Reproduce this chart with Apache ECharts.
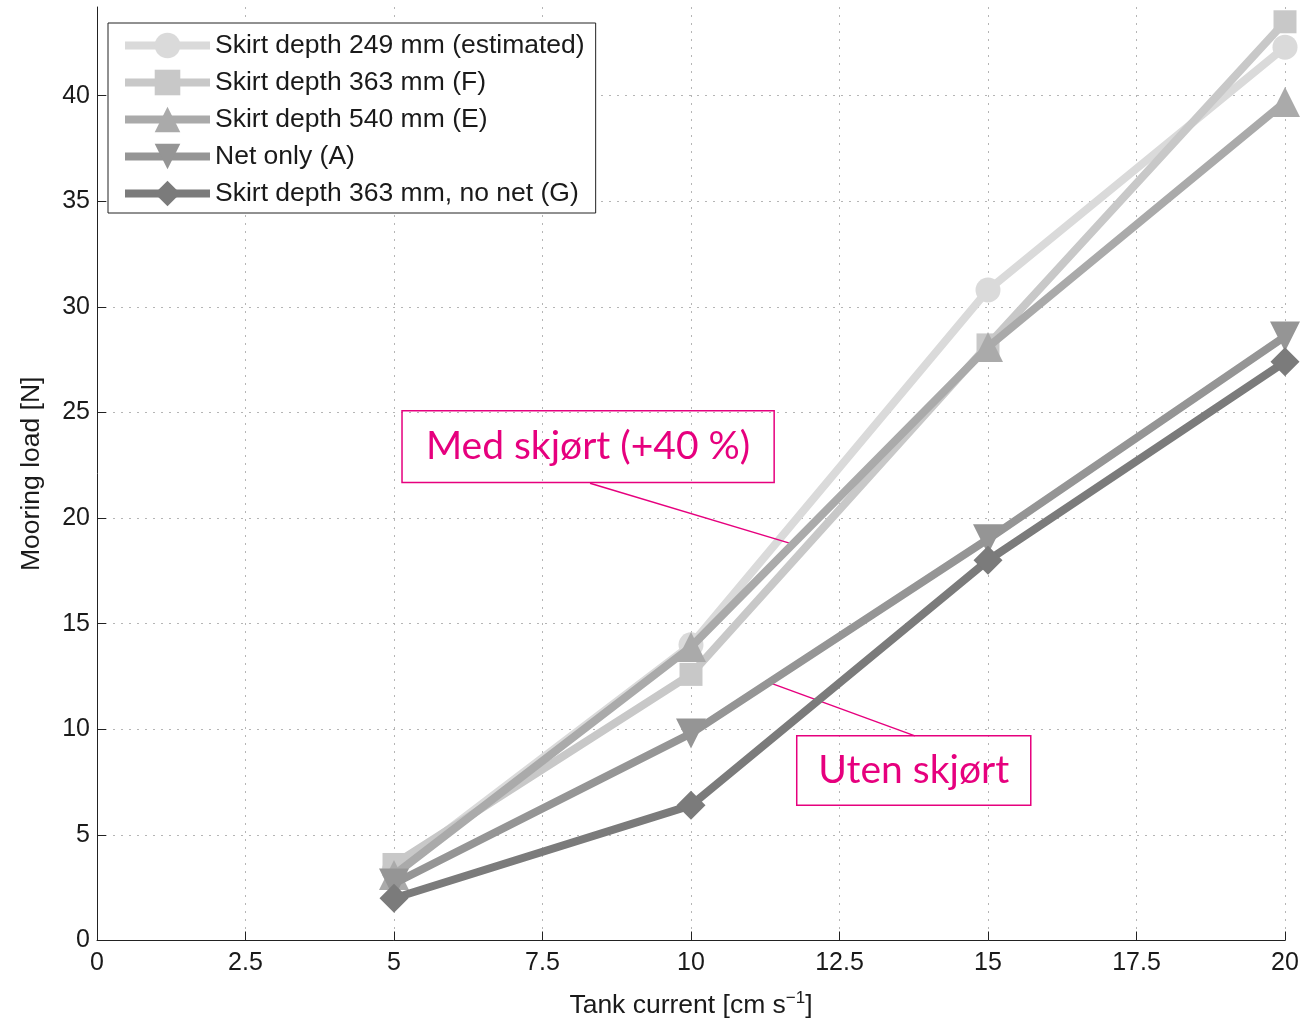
<!DOCTYPE html>
<html>
<head>
<meta charset="utf-8">
<title>Mooring load vs tank current</title>
<script src="https://cdn.jsdelivr.net/npm/echarts@6/dist/echarts.min.js"></script>
<style>
  html, body { margin: 0; padding: 0; background: #fff; overflow: hidden; }
  #chart { width: 1309px; height: 1024px; }
</style>
</head>
<body>
<div id="chart"></div>
<script>
// Tank current (cm/s) at which mooring load was measured
const currents = [5, 10, 15, 20];

// Mooring load [N] per configuration
const skirt249 = [3.3, 14.0, 30.8, 42.3];
const skirt363 = [3.6, 12.6, 28.2, 43.5];
const skirt540 = [3.1, 13.9, 28.1, 39.7];
const netOnly = [2.7, 9.8, 19.0, 28.6];
const skirt363NoNet = [2.0, 6.4, 18.0, 27.4];

const seriesNames = [
  'Skirt depth 249 mm (estimated)',
  'Skirt depth 363 mm (F)',
  'Skirt depth 540 mm (E)',
  'Net only (A)',
  'Skirt depth 363 mm, no net (G)'
];

// Axis tick labels
const xTicks = [0, 2.5, 5, 7.5, 10, 12.5, 15, 17.5, 20];
const yTicks = [0, 5, 10, 15, 20, 25, 30, 35, 40];

// Callout boxes and their leader lines, in data units
const calloutWith = { text: 'Med skjørt (+40 %)', box: [[5.135, 25.08], [11.40, 21.69]], leader: [[8.30, 21.65], [11.70, 18.78]] };
const calloutWithout = { text: 'Uten skjørt', box: [[11.78, 9.69], [15.72, 6.40]], leader: [[13.77, 9.69], [11.25, 12.28]] };

const pair = (vals) => currents.map((c, i) => [c, vals[i]]);

const styles = [
  { color: '#dadada', symbol: 'circle', size: 25, rotate: 0 },
  { color: '#c8c8c8', symbol: 'rect', size: 23, rotate: 0 },
  { color: '#aaaaaa', symbol: 'triangle', size: 30, rotate: 0 },
  { color: '#959595', symbol: 'triangle', size: 30, rotate: 180 },
  { color: '#7b7b7b', symbol: 'diamond', size: 29, rotate: 0 }
];
const values = [skirt249, skirt363, skirt540, netOnly, skirt363NoNet];

const MAGENTA = '#e6007e';
const FONT = '"Liberation Sans", Arial, sans-serif';

const series = values.map((v, i) => ({
  name: seriesNames[i],
  type: 'line',
  data: pair(v),
  symbol: styles[i].symbol,
  symbolSize: styles[i].size,
  symbolRotate: styles[i].rotate,
  showAllSymbol: true,
  lineStyle: { color: styles[i].color, width: 8 },
  itemStyle: { color: styles[i].color },
  emphasis: { disabled: true },
  z: 3 + i
}));

function callout(c) {
  return {
    name: c.text,
    type: 'line',
    data: [],
    silent: true,
    markArea: {
      silent: true,
      itemStyle: { color: 'rgba(255,255,255,0)', borderColor: MAGENTA, borderWidth: 1.5 },
      label: {
        show: true, position: 'inside', color: MAGENTA,
        fontFamily: 'Lato, "Open Sans", sans-serif', fontSize: 39
      },
      data: [[{ name: c.text, coord: c.box[0] }, { coord: c.box[1] }]]
    },
    markLine: {
      silent: true,
      symbol: ['none', 'none'],
      label: { show: false },
      lineStyle: { color: MAGENTA, width: 1.5, type: 'solid' },
      data: [[{ coord: c.leader[0] }, { coord: c.leader[1] }]]
    }
  };
}
series.push(callout(calloutWith), callout(calloutWithout));

const chart = echarts.init(document.getElementById('chart'), null, { renderer: 'canvas' });
chart.setOption({
  animation: false,
  backgroundColor: '#ffffff',
  textStyle: { fontFamily: FONT },
  grid: { left: 97, right: 24, top: 7, bottom: 78, containLabel: false },
  legend: {
    data: seriesNames,
    orient: 'vertical',
    left: 108,
    top: 23,
    itemWidth: 85,
    itemHeight: 32,
    itemGap: 10,
    padding: [9, 11, 6, 13],
    borderColor: '#222',
    borderWidth: 1,
    backgroundColor: '#fff',
    lineStyle: { width: 8 },
    textStyle: { fontSize: 26.5, color: '#1a1a1a', fontFamily: FONT },
    itemStyle: { borderWidth: 0 },
    selectedMode: false
  },
  xAxis: {
    type: 'value',
    min: 0,
    max: 20,
    interval: 2.5,
    name: 'Tank current [cm s{sup|−1}]',
    nameLocation: 'middle',
    nameGap: 49,
    nameTextStyle: {
      fontSize: 26.5, color: '#1a1a1a', fontFamily: FONT,
      rich: { sup: { fontSize: 17, color: '#1a1a1a', padding: [0, 0, 15, 0], fontFamily: FONT } }
    },
    axisLine: { show: true, lineStyle: { color: '#222', width: 1 } },
    axisTick: { show: true, inside: true, length: 9, lineStyle: { color: '#222' } },
    axisLabel: {
      fontSize: 25, color: '#1a1a1a', margin: 10,
      formatter: (v) => xTicks.includes(v) ? String(v) : ''
    },
    splitLine: { show: true, lineStyle: { color: '#b5b5b5', type: [2, 6], width: 1 } }
  },
  yAxis: {
    type: 'value',
    min: 0,
    max: 44.2,
    interval: 5,
    name: 'Mooring load [N]',
    nameLocation: 'middle',
    nameGap: 52,
    nameTextStyle: { fontSize: 26.5, color: '#1a1a1a', fontFamily: FONT },
    axisLine: { show: true, lineStyle: { color: '#222', width: 1 } },
    axisTick: { show: true, inside: true, length: 9, lineStyle: { color: '#222' } },
    axisLabel: {
      fontSize: 25, color: '#1a1a1a', margin: 7, showMaxLabel: false,
      formatter: (v) => yTicks.includes(v) ? String(v) : ''
    },
    splitLine: { show: true, showMaxLine: false, lineStyle: { color: '#b5b5b5', type: [2, 6], width: 1 } }
  },
  series: series
});
</script>
</body>
</html>
